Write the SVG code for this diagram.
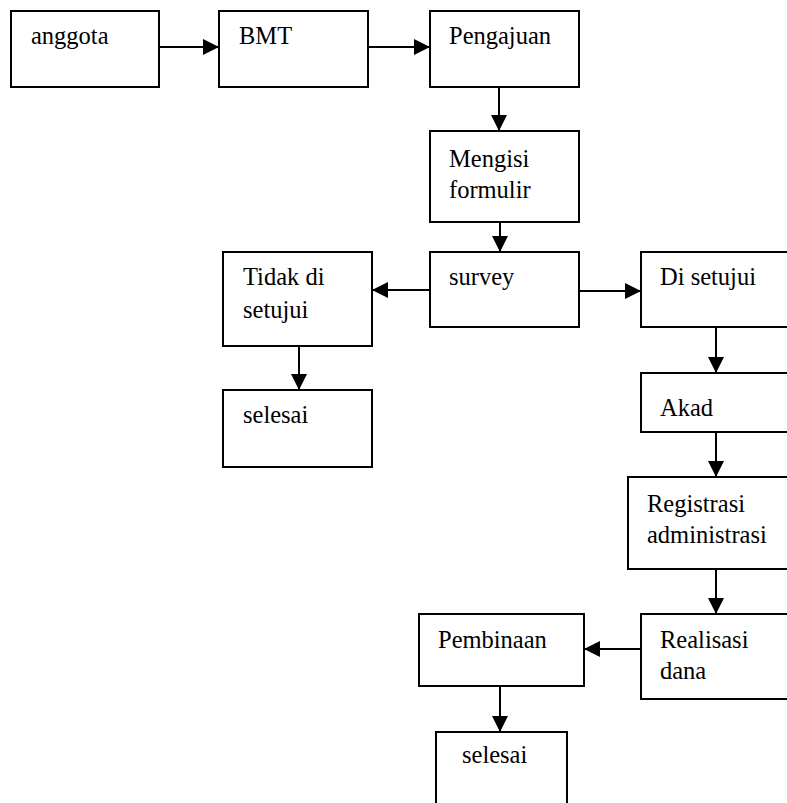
<svg xmlns="http://www.w3.org/2000/svg" width="787" height="803" viewBox="0 0 787 803">
<style>
.box{fill:#fff;stroke:#000;stroke-width:2}
.t{font-family:"Liberation Serif","Times New Roman",serif;font-size:24.5px;fill:#000}
.c{stroke:#000;stroke-width:2;fill:none;marker-end:url(#ah)}
</style>
<defs>
<marker id="ah" markerUnits="userSpaceOnUse" markerWidth="16" markerHeight="16" viewBox="0 0 14 14" refX="14" refY="7" orient="auto">
<path d="M0,0 L14,7 L0,14 Z" fill="#000"/>
</marker>
</defs>
<rect width="787" height="803" fill="#fff"/>
<g id="connectors">
<line class="c" x1="159" y1="47" x2="219" y2="47"/>
<line class="c" x1="368" y1="47" x2="430" y2="47"/>
<line class="c" x1="499" y1="87" x2="499" y2="131"/>
<line class="c" x1="500" y1="222" x2="500" y2="252"/>
<line class="c" x1="430" y1="290" x2="372" y2="290"/>
<line class="c" x1="579" y1="291" x2="641" y2="291"/>
<line class="c" x1="299" y1="346" x2="299" y2="390"/>
<line class="c" x1="716" y1="327" x2="716" y2="373"/>
<line class="c" x1="716" y1="432" x2="716" y2="477"/>
<line class="c" x1="716" y1="569" x2="716" y2="614"/>
<line class="c" x1="641" y1="649" x2="584" y2="649"/>
<line class="c" x1="500" y1="686" x2="500" y2="732"/>
</g>
<g id="anggota"><rect class="box" x="11" y="11" width="148" height="76"/><text class="t" x="31" y="44">anggota</text></g>
<g id="bmt"><rect class="box" x="219" y="11" width="149" height="76"/><text class="t" x="239" y="44">BMT</text></g>
<g id="pengajuan"><rect class="box" x="430" y="11" width="149" height="76"/><text class="t" x="449" y="44">Pengajuan</text></g>
<g id="mengisi"><rect class="box" x="430" y="131" width="149" height="91"/><text class="t" x="449" y="167">Mengisi</text><text class="t" x="449" y="198">formulir</text></g>
<g id="survey"><rect class="box" x="430" y="252" width="149" height="75"/><text class="t" x="449" y="285">survey</text></g>
<g id="tidak"><rect class="box" x="223" y="252" width="149" height="94"/><text class="t" x="243" y="285">Tidak di</text><text class="t" x="243" y="318">setujui</text></g>
<g id="selesai1"><rect class="box" x="223" y="390" width="149" height="77"/><text class="t" x="243" y="423">selesai</text></g>
<g id="disetujui"><rect class="box" x="641" y="252" width="170" height="75"/><text class="t" x="660" y="285">Di setujui</text></g>
<g id="akad"><rect class="box" x="641" y="373" width="170" height="59"/><text class="t" x="660" y="416">Akad</text></g>
<g id="registrasi"><rect class="box" x="628" y="477" width="183" height="92"/><text class="t" x="647" y="512">Registrasi</text><text class="t" x="647" y="543">administrasi</text></g>
<g id="realisasi"><rect class="box" x="641" y="614" width="170" height="85"/><text class="t" x="660" y="648">Realisasi</text><text class="t" x="660" y="679">dana</text></g>
<g id="pembinaan"><rect class="box" x="419" y="614" width="165" height="72"/><text class="t" x="438" y="648">Pembinaan</text></g>
<g id="selesai2"><rect class="box" x="436" y="732" width="131" height="90"/><text class="t" x="462" y="763">selesai</text></g>
</svg>
